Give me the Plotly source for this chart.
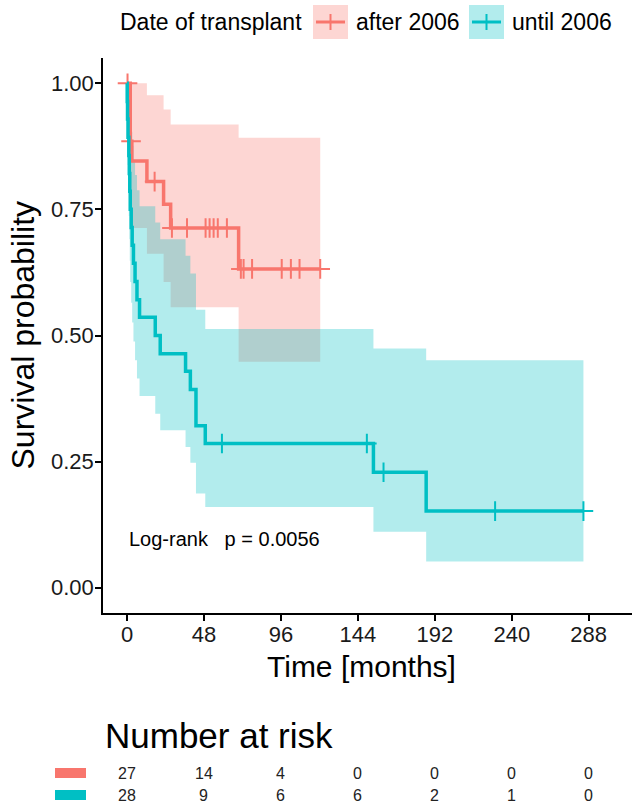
import plotly.graph_objects as go

# ---------------- data ----------------
group_names = ["after 2006", "until 2006"]
group_colors = ["#F8766D", "#00BFC4"]
group_fills = ["rgba(248,118,109,0.3)", "rgba(0,191,196,0.3)"]

red_time = [0, 2, 3, 12.4, 22.8, 27.2, 69.6, 120.5]
red_surv = [1.0, 0.885, 0.846, 0.805, 0.760, 0.713, 0.632, 0.632]
red_upper = [1.0, 1.0, 1.0, 0.976, 0.948, 0.918, 0.892, 0.892]
red_lower = [1.0, 0.770, 0.713, 0.662, 0.606, 0.556, 0.448, 0.448]
red_censor = [0.3, 2.5, 17.2, 28, 37.4, 49, 51.5, 54, 56.6, 62.3,
              71, 72.7, 78, 96.5, 102.2, 107.6, 120.5]

teal_time = [0, 0.1, 0.3, 0.6, 1.1, 1.4, 1.7, 2.0, 2.6, 3.2, 4.0, 5.0, 6.2,
             7.8, 17.6, 20.7, 36.5, 39.5, 43.0, 48.8, 153.7, 186.6, 284.7]
teal_surv = [1.0, 0.964, 0.929, 0.893, 0.857, 0.821, 0.786, 0.750, 0.714,
             0.679, 0.643, 0.607, 0.571, 0.536, 0.500, 0.464, 0.429, 0.393,
             0.321, 0.286, 0.229, 0.152, 0.152]
teal_upper = [1.0, 1.0, 1.0, 1.0, 0.997, 0.976, 0.953, 0.929, 0.903, 0.876,
              0.847, 0.818, 0.788, 0.756, 0.724, 0.691, 0.658, 0.623, 0.551,
              0.513, 0.474, 0.451, 0.451]
teal_lower = [1.0, 0.898, 0.838, 0.785, 0.737, 0.691, 0.648, 0.606, 0.565,
              0.526, 0.488, 0.451, 0.415, 0.380, 0.345, 0.312, 0.279, 0.248,
              0.187, 0.160, 0.111, 0.052, 0.052]
teal_censor = [59.2, 149.6, 160.0, 229.6, 284.7]

x_ticks = [0, 48, 96, 144, 192, 240, 288]
y_ticks = [0, 0.25, 0.5, 0.75, 1.0]
y_tick_labels = ["0.00", "0.25", "0.50", "0.75", "1.00"]

risk_times = [0, 48, 96, 144, 192, 240, 288]
risk_red = [27, 14, 4, 0, 0, 0, 0]
risk_teal = [28, 9, 6, 6, 2, 1, 0]

pvalue_text = "Log-rank\u00a0\u00a0\u00a0p = 0.0056"

# ---------------- layout constants ----------------
W, H = 633, 805
ML, MR, MT, MB = 103, 1, 58, 192
FONT = "Liberation Sans, Arial, sans-serif"


def px_x(px):
    return (px - ML) / (W - ML - MR)


def px_y(py):
    return (H - MB - py) / (H - MT - MB)


def step_at(times, surv, t):
    v = surv[0]
    for ti, si in zip(times, surv):
        if ti <= t:
            v = si
    return v


groups = [
    (red_time, red_surv, red_upper, red_lower, red_censor),
    (teal_time, teal_surv, teal_upper, teal_lower, teal_censor),
]

fig = go.Figure()

# confidence bands
for (t, s, up, lo, cen), col, fc in zip(groups, group_colors, group_fills):
    fig.add_trace(go.Scatter(x=t, y=lo, mode="lines", line=dict(width=0, shape="hv"),
                             showlegend=False, hoverinfo="skip"))
    fig.add_trace(go.Scatter(x=t, y=up, mode="lines", line=dict(width=0, shape="hv"),
                             fill="tonexty", fillcolor=fc, showlegend=False, hoverinfo="skip"))

# survival curves + censor marks
for (t, s, up, lo, cen), col, name in zip(groups, group_colors, group_names):
    fig.add_trace(go.Scatter(x=t, y=s, mode="lines", line=dict(color=col, width=3.5, shape="hv"),
                             name=name, showlegend=False))
    fig.add_trace(go.Scatter(x=cen, y=[step_at(t, s, c) for c in cen], mode="markers",
                             marker=dict(symbol="cross-thin", size=14,
                                         line=dict(width=2, color=col), color=col),
                             showlegend=False, hoverinfo="skip"))

shapes = []
annotations = []

# manual legend at top
annotations.append(dict(xref="paper", yref="paper", x=px_x(304), y=px_y(22), text="Date of transplant",
                        showarrow=False, xanchor="right", yanchor="middle",
                        font=dict(family=FONT, size=23, color="black")))
leg_x = [313, 469]
leg_lbl_x = [354, 510]
for i, name in enumerate(group_names):
    x0, x1 = leg_x[i], leg_x[i] + 35
    shapes.append(dict(type="rect", xref="paper", yref="paper", x0=px_x(x0), x1=px_x(x1),
                       y0=px_y(39), y1=px_y(5), fillcolor=group_fills[i], line=dict(width=0)))
    shapes.append(dict(type="line", xref="paper", yref="paper", x0=px_x(x0 + 3), x1=px_x(x1 - 3),
                       y0=px_y(22), y1=px_y(22), line=dict(color=group_colors[i], width=3)))
    shapes.append(dict(type="line", xref="paper", yref="paper", x0=px_x(x0 + 17.5), x1=px_x(x0 + 17.5),
                       y0=px_y(14), y1=px_y(30), line=dict(color=group_colors[i], width=2)))
    annotations.append(dict(xref="paper", yref="paper", x=px_x(leg_lbl_x[i]), y=px_y(22), text=name,
                            showarrow=False, xanchor="left", yanchor="middle",
                            font=dict(family=FONT, size=23, color="black")))

# axis titles
annotations.append(dict(xref="paper", yref="paper", x=px_x(361), y=px_y(667), text="Time [months]",
                        showarrow=False, xanchor="center", yanchor="middle",
                        font=dict(family=FONT, size=30, color="black")))
annotations.append(dict(xref="paper", yref="paper", x=px_x(22), y=0.5, text="Survival probability",
                        showarrow=False, xanchor="center", yanchor="middle", textangle=-90,
                        font=dict(family=FONT, size=32, color="black")))

# p-value
annotations.append(dict(xref="x", yref="y", x=0, y=0.097, text=pvalue_text, showarrow=False,
                        xanchor="left", yanchor="middle", font=dict(family=FONT, size=20, color="black")))

# risk table
annotations.append(dict(xref="paper", yref="paper", x=px_x(103), y=px_y(735), text="Number at risk",
                        showarrow=False, xanchor="left", yanchor="middle",
                        font=dict(family=FONT, size=35, color="black")))
row_y = [773, 795]
for i, counts in enumerate([risk_red, risk_teal]):
    shapes.append(dict(type="rect", xref="paper", yref="paper", x0=px_x(55), x1=px_x(86),
                       y0=px_y(row_y[i] + 5), y1=px_y(row_y[i] - 5),
                       fillcolor=group_colors[i], line=dict(width=0)))
    for tt, n in zip(risk_times, counts):
        annotations.append(dict(xref="x", yref="paper", x=tt, y=px_y(row_y[i]), text=str(n),
                                showarrow=False, xanchor="center", yanchor="middle",
                                font=dict(family=FONT, size=16, color="#222222")))

fig.update_layout(
    width=W, height=H,
    margin=dict(l=ML, r=MR, t=MT, b=MB, pad=0),
    paper_bgcolor="white", plot_bgcolor="white",
    showlegend=False,
    shapes=shapes, annotations=annotations,
    font=dict(family=FONT, color="black"),
    xaxis=dict(range=[-15, 315], tickvals=x_ticks, ticks="outside", ticklen=6, tickwidth=1.5,
               tickcolor="black", showline=True, linecolor="black", linewidth=1.5,
               showgrid=False, zeroline=False, ticklabelstandoff=-5,
               tickfont=dict(family=FONT, size=22, color="#1a1a1a")),
    yaxis=dict(range=[-0.05, 1.05], tickvals=y_ticks, ticktext=y_tick_labels, ticks="outside",
               ticklen=6, tickwidth=1.5, tickcolor="black", showline=True, linecolor="black",
               linewidth=1.5, showgrid=False, zeroline=False, ticklabelstandoff=-3,
               tickfont=dict(family=FONT, size=22, color="#1a1a1a")),
)

fig.write_html("out.html", config={"displayModeBar": False},
               post_script="document.body.style.margin='0';")
